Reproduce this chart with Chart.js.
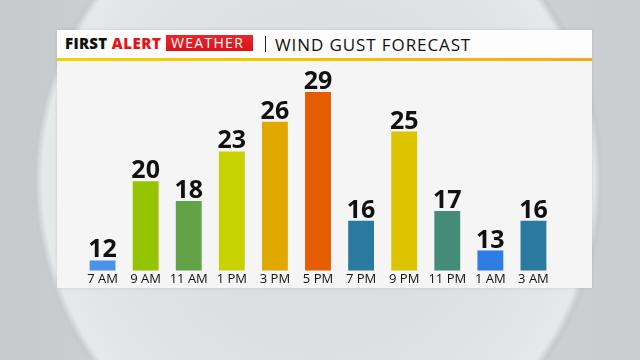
<!DOCTYPE html>
<html>
<head>
<meta charset="utf-8">
<script src="https://cdn.jsdelivr.net/npm/chart.js@4/dist/chart.umd.min.js"></script>
<style>
  html, body { margin:0; padding:0; width:640px; height:360px; overflow:hidden; }
  body {
    position:relative;
    background:#cdd1d3;
    font-family:"Open Sans", sans-serif;
  }
  #bg {
    position:absolute; left:0; top:0; width:640px; height:360px;
    background:
      radial-gradient(ellipse 287px 305px at 318px 180px, #d9dcde 0%, #dde0e2 55%, #e2e5e6 85%, #e6e9ea 96%, #c6cacc 98.5%, rgba(205,209,211,0) 100%),
      linear-gradient(90deg, #c6cacd 0%, #d3d7d9 50%, #c9cdd0 100%);
  }
  #panel {
    position:absolute; left:57px; top:30px; width:535px; height:258px;
    background:#f5f5f5;
    box-shadow: 0 0 3px rgba(0,0,0,0.12);
  }
  #header {
    position:absolute; left:0; top:0; width:535px; height:28px; background:#fdfdfd;
  }
  #rule {
    position:absolute; left:0; top:28px; width:535px; height:3px;
    background:linear-gradient(90deg, #f3d400 0%, #f5c200 50%, #f6a91c 100%);
  }
  .t { position:absolute; line-height:1; white-space:nowrap; }
  #first { left:8px; top:5.7px; font-size:15px; font-weight:800; color:#111; letter-spacing:0.3px; }
  #alert { left:54.7px; top:5.7px; font-size:15px; font-weight:800; color:#e3161b; letter-spacing:0.6px; }
  #wxbox { position:absolute; left:109px; top:5px; width:87px; height:16px;
           background:linear-gradient(180deg,#e8262b,#d81419); }
  #wx { left:114px; top:6.3px; font-size:14px; font-weight:500; color:#fff; letter-spacing:1.3px; }
  #divider { position:absolute; left:207.5px; top:5.5px; width:1.6px; height:16px; background:#222; }
  #title { left:218px; top:5.9px; font-size:17px; font-weight:400; color:#111; letter-spacing:0.9px; }
  #chartwrap { position:absolute; left:0; top:31px; width:535px; height:227px; }
</style>
</head>
<body>
<div id="bg"></div>
<div id="panel">
  <div id="header">
    <span class="t" id="first">FIRST</span>
    <span class="t" id="alert">ALERT</span>
    <div id="wxbox"></div>
    <span class="t" id="wx">WEATHER</span>
    <div id="divider"></div>
    <span class="t" id="title">WIND GUST FORECAST</span>
  </div>
  <div id="rule"></div>
  <div id="chartwrap"><canvas id="c" width="535" height="227"></canvas></div>
</div>
<script>
const categories = ["7 AM","9 AM","11 AM","1 PM","3 PM","5 PM","7 PM","9 PM","11 PM","1 AM","3 AM"];
const gusts = [12, 20, 18, 23, 26, 29, 16, 25, 17, 13, 16];
const barColors = ["#4a94e6","#94c400","#62a347","#c8d200","#e0a800","#e65c00","#2a7aa0","#dec400","#458c78","#2e7de6","#2a7aa0"];

const valueLabels = {
  id: 'valueLabels',
  afterDatasetsDraw(chart) {
    const ctx = chart.ctx;
    const meta = chart.getDatasetMeta(0);
    ctx.save();
    ctx.font = '700 25px "Open Sans", sans-serif';
    ctx.fillStyle = '#111';
    ctx.textAlign = 'center';
    ctx.textBaseline = 'alphabetic';
    meta.data.forEach((bar, i) => {
      ctx.fillText(String(chart.data.datasets[0].data[i]), bar.x, bar.y - 3);
    });
    ctx.restore();
  }
};

new Chart(document.getElementById('c'), {
  type: 'bar',
  data: {
    labels: categories,
    datasets: [{
      data: gusts,
      backgroundColor: barColors,
      borderWidth: 0,
      categoryPercentage: 1.0,
      barPercentage: 0.6
    }]
  },
  options: {
    responsive: false,
    animation: false,
    events: [],
    layout: { padding: { left: 24, right: 37, top: 21, bottom: 0 } },
    plugins: { legend: { display: false }, tooltip: { enabled: false }, title: { display: false } },
    scales: {
      x: {
        grid: { display: false, drawTicks: false },
        border: { display: false },
        ticks: { color: '#111', font: { family: '"Open Sans", sans-serif', size: 13 }, padding: 1, maxRotation: 0, autoSkip: false }
      },
      y: {
        display: false,
        min: 11,
        max: 30
      }
    }
  },
  plugins: [valueLabels]
});
</script>
</body>
</html>
